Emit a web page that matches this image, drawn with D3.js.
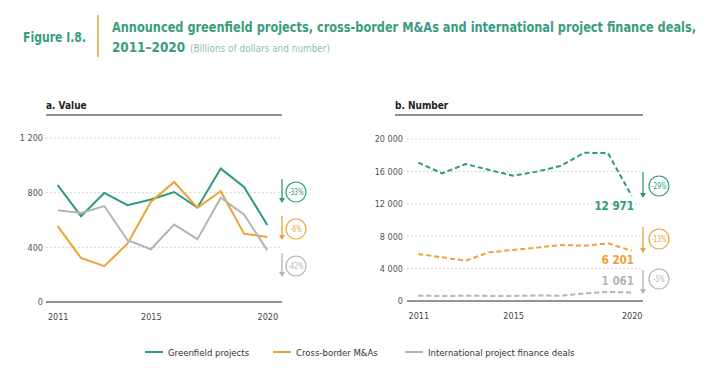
<!DOCTYPE html>
<html>
<head>
<meta charset="utf-8">
<script src="https://cdn.jsdelivr.net/npm/d3@7"></script>
<style>
  body { margin: 0; background: #fff; }
  svg text { font-family: "Liberation Sans Narrow", "DejaVu Sans Condensed", "Roboto", sans-serif; }
</style>
</head>
<body>
<script>
var width = 709;
var height = 368;

var years = [2011, 2012, 2013, 2014, 2015, 2016, 2017, 2018, 2019, 2020];
var xTicks = [2011, 2015, 2020];

// a. Value (billions of dollars)
var greenfieldValue = [855, 628, 798, 708, 750, 805, 690, 976, 842, 563];
var mnaValue = [555, 322, 262, 428, 732, 878, 690, 810, 500, 476];
var ipfValue = [671, 651, 702, 452, 386, 566, 460, 763, 640, 378];
var valueTicks = [0, 400, 800, 1200];

// b. Number
var greenfieldNumber = [17080, 15760, 16910, 16170, 15470, 15970, 16670, 18300, 18260, 12971];
var mnaNumber = [5800, 5390, 4980, 6010, 6300, 6590, 6910, 6830, 7120, 6201];
var ipfNumber = [650, 620, 640, 630, 620, 680, 640, 950, 1117, 1061];
var numberTicks = [0, 4000, 8000, 12000, 16000, 20000];

var seriesNames = ["Greenfield projects", "Cross-border M&As", "International project finance deals"];
var seriesColors = ["#2e9b78", "#f0a136", "#b4b4b4"];
var valueChanges = ["-33%", "-6%", "-42%"];
var numberChanges = ["-29%", "-13%", "-5%"];
var numberLabels = ["12 971", "6 201", "1 061"];

var titleGreen = "#3a9c7f";
var fmt = function (d) { return d3.format(",")(d).replace(/,/g, " "); };

var svg = d3.select("body").append("svg")
  .attr("width", width)
  .attr("height", height);

// header
svg.append("text")
  .attr("x", 23).attr("y", 41.5)
  .attr("font-size", 14).attr("font-weight", "bold")
  .attr("fill", titleGreen)
  .attr("textLength", 63).attr("lengthAdjust", "spacingAndGlyphs")
  .text("Figure I.8.");
svg.append("line")
  .attr("x1", 98).attr("x2", 98).attr("y1", 15).attr("y2", 57)
  .attr("stroke", "#f0a136").attr("stroke-width", 1.5);
svg.append("text")
  .attr("transform", "translate(112,31.5) scale(1,1.12)")
  .attr("font-size", 12).attr("font-weight", "bold")
  .attr("fill", titleGreen)
  .attr("textLength", 584).attr("lengthAdjust", "spacingAndGlyphs")
  .text("Announced greenfield projects, cross-border M&As and international project finance deals,");
svg.append("text")
  .attr("x", 112).attr("y", 51.5)
  .attr("font-size", 14).attr("font-weight", "bold")
  .attr("fill", titleGreen)
  .attr("textLength", 73).attr("lengthAdjust", "spacingAndGlyphs")
  .text("2011–2020");
svg.append("text")
  .attr("x", 190).attr("y", 51.5)
  .attr("font-size", 10)
  .attr("fill", "#8fbfae")
  .attr("textLength", 140).attr("lengthAdjust", "spacingAndGlyphs")
  .text("(Billions of dollars and number)");

function panel(opt) {
  var x = d3.scaleLinear().domain([2011, 2020]).range(opt.xr);
  var y = d3.scaleLinear().domain(opt.yd).range(opt.yr);
  var g = svg.append("g");

  g.append("text")
    .attr("x", opt.left).attr("y", 109)
    .attr("font-size", 10).attr("font-weight", "bold")
    .attr("fill", "#222")
    .text(opt.title);
  g.append("line")
    .attr("x1", opt.left).attr("x2", opt.right)
    .attr("y1", 115).attr("y2", 115)
    .attr("stroke", "#222").attr("stroke-width", 1);

  // grid
  g.selectAll(".grid").data(opt.ticks.slice(1)).enter().append("line")
    .attr("x1", opt.axisLeft).attr("x2", opt.right)
    .attr("y1", function (d) { return y(d); })
    .attr("y2", function (d) { return y(d); })
    .attr("stroke", "#c8c8c8").attr("stroke-width", 1)
    .attr("stroke-dasharray", "1.5,2.5");

  var yAxis = g.append("g")
    .attr("transform", "translate(" + opt.labelRight + ",0)")
    .call(d3.axisLeft(y).tickValues(opt.ticks).tickFormat(fmt).tickSize(0).tickPadding(0));
  yAxis.select(".domain").remove();
  yAxis.selectAll("text").attr("font-size", 9).attr("fill", "#555")
    .style("font-family", "'Liberation Sans Narrow', 'DejaVu Sans Condensed', sans-serif");

  var xAxis = g.append("g")
    .attr("transform", "translate(0," + (opt.yr[0] + 12) + ")")
    .call(d3.axisBottom(x).tickValues(xTicks).tickFormat(d3.format("d")).tickSize(0).tickPadding(0));
  xAxis.select(".domain").remove();
  xAxis.selectAll("text").attr("font-size", 9).attr("fill", "#444")
    .style("font-family", "'Liberation Sans Narrow', 'DejaVu Sans Condensed', sans-serif");

  g.append("line")
    .attr("x1", opt.axisLeft).attr("x2", opt.right)
    .attr("y1", y(0)).attr("y2", y(0))
    .attr("stroke", "#6f6f6f").attr("stroke-width", 1.5);

  var line = d3.line()
    .x(function (d, i) { return x(years[i]); })
    .y(function (d) { return y(d); });

  opt.series.forEach(function (s, i) {
    g.append("path")
      .datum(s)
      .attr("d", line)
      .attr("fill", "none")
      .attr("stroke", seriesColors[i])
      .attr("stroke-width", 2)
      .attr("stroke-dasharray", opt.dashed ? "5,3" : null);
  });

  // change badges
  opt.badges.forEach(function (b, i) {
    var c = seriesColors[i];
    var label = opt.changes[i];
    g.append("line")
      .attr("x1", opt.arrowX).attr("x2", opt.arrowX)
      .attr("y1", b[0]).attr("y2", b[1] - 4)
      .attr("stroke", c).attr("stroke-width", 1.3);
    g.append("path")
      .attr("d", "M" + (opt.arrowX - 3) + "," + (b[1] - 5) + "L" + (opt.arrowX + 3) + "," + (b[1] - 5) + "L" + opt.arrowX + "," + b[1] + "Z")
      .attr("fill", c);
    g.append("circle")
      .attr("cx", opt.circleX).attr("cy", b[2]).attr("r", 10)
      .attr("fill", "#fff").attr("stroke", c).attr("stroke-width", 1.2);
    g.append("text")
      .attr("x", opt.circleX).attr("y", b[2] + 3)
      .attr("text-anchor", "middle")
      .attr("font-size", 8).attr("fill", c)
      .attr("textLength", label.length > 3 ? 15 : 11)
      .attr("lengthAdjust", "spacingAndGlyphs")
      .text(label);
  });

  return { x: x, y: y, g: g };
}

panel({
  title: "a. Value",
  left: 46, right: 282, axisLeft: 46, labelRight: 43,
  xr: [57.7, 267.3], yd: [0, 1200], yr: [302, 138],
  ticks: valueTicks,
  series: [greenfieldValue, mnaValue, ipfValue],
  dashed: false,
  arrowX: 282, circleX: 296,
  badges: [[179, 203, 192], [216, 240, 229], [253, 277, 266]],
  changes: valueChanges
});

var right = panel({
  title: "b. Number",
  left: 395, right: 643, axisLeft: 407, labelRight: 403,
  xr: [418.3, 631.7], yd: [0, 20000], yr: [301, 139],
  ticks: numberTicks,
  series: [greenfieldNumber, mnaNumber, ipfNumber],
  dashed: true,
  arrowX: 643, circleX: 659,
  badges: [[172, 198, 186], [227, 253, 239], [270, 294, 279]],
  changes: numberChanges
});

// end-value labels on the number panel
var labelY = [210, 264, 285];
numberLabels.forEach(function (t, i) {
  right.g.append("text")
    .attr("x", 634).attr("y", labelY[i])
    .attr("text-anchor", "end")
    .attr("font-size", 11.5).attr("font-weight", "bold")
    .attr("fill", seriesColors[i])
    .text(t);
});

// legend
var legendX = [145, 273, 405];
var legend = svg.append("g");
seriesNames.forEach(function (n, i) {
  legend.append("line")
    .attr("x1", legendX[i]).attr("x2", legendX[i] + 18)
    .attr("y1", 352).attr("y2", 352)
    .attr("stroke", seriesColors[i]).attr("stroke-width", 2);
  legend.append("text")
    .attr("x", legendX[i] + 23).attr("y", 355.5)
    .attr("font-size", 9.5).attr("fill", "#333")
    .text(n);
});
</script>
</body>
</html>
